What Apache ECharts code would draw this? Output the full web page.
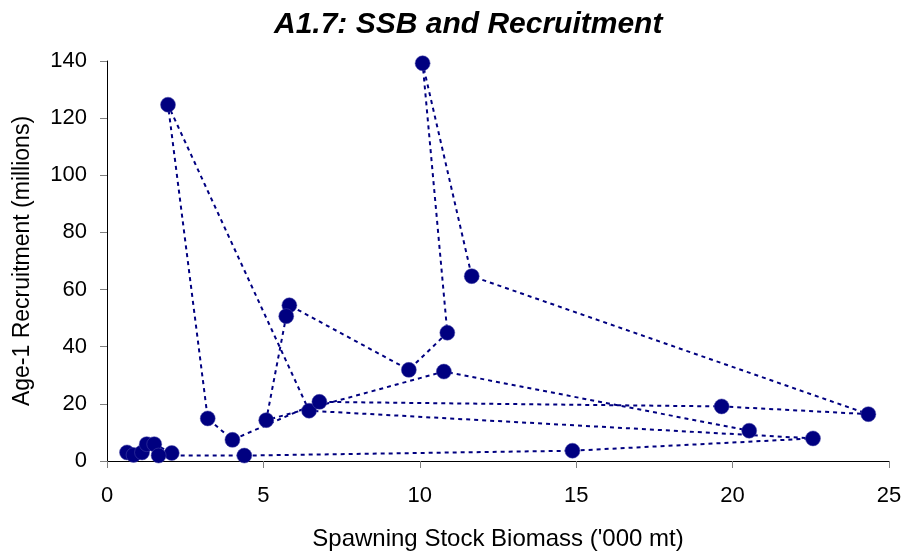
<!DOCTYPE html>
<html>
<head>
<meta charset="utf-8">
<script src="https://cdn.jsdelivr.net/npm/echarts@6/dist/echarts.min.js"></script>
<style>
html, body { margin: 0; padding: 0; background: #fff; }
#chart { width: 907px; height: 556px; }
</style>
</head>
<body>
<div id="chart"></div>
<script>
// SSB ('000 mt) and age-1 recruitment (millions), in connection order
var ssb = [0.64, 0.85, 1.12, 1.27, 1.51, 2.07, 1.65, 4.39, 14.88, 22.57, 6.46, 1.95, 3.22, 4.01, 6.79, 19.65, 24.34, 11.66, 10.09, 10.88, 9.65, 5.83, 5.73, 5.09, 10.77, 20.53];
var recruits = [3.0, 2.1, 3.0, 5.9, 5.9, 2.8, 1.9, 1.9, 3.6, 7.9, 17.6, 124.7, 14.9, 7.4, 20.7, 19.1, 16.4, 64.7, 139.2, 44.9, 31.9, 54.5, 50.7, 14.3, 31.3, 10.6];
var xTicks = [0, 5, 10, 15, 20, 25];
var yTicks = [0, 20, 40, 60, 80, 100, 120, 140];

var points = [];
for (var i = 0; i < ssb.length; i++) {
    points.push([ssb[i], recruits[i]]);
}

var chart = echarts.init(document.getElementById('chart'));
var axisFont = 'Liberation Sans, Arial, sans-serif';
chart.setOption({
    animation: false,
    title: {
        text: 'A1.7: SSB and Recruitment',
        left: 269,
        top: 5,
        textStyle: {
            fontFamily: 'Liberation Sans Narrow, Liberation Sans, Arial, sans-serif',
            fontStyle: 'italic',
            fontWeight: 'bold',
            fontSize: 30,
            color: '#000'
        }
    },
    grid: { left: 107, right: 18, top: 61, bottom: 94 },
    xAxis: {
        type: 'value',
        min: xTicks[0],
        max: xTicks[xTicks.length - 1],
        interval: 5,
        name: "Spawning Stock Biomass ('000 mt)",
        nameLocation: 'middle',
        nameGap: 66,
        nameTextStyle: { fontFamily: axisFont, fontSize: 24, color: '#000' },
        axisLine: { onZero: false, lineStyle: { color: '#000', width: 1 } },
        axisTick: { length: 7, lineStyle: { color: '#808080' } },
        axisLabel: { fontFamily: axisFont, fontSize: 22, color: '#000', margin: 24 },
        splitLine: { show: false }
    },
    yAxis: {
        type: 'value',
        min: yTicks[0],
        max: yTicks[yTicks.length - 1],
        interval: 20,
        name: 'Age-1 Recruitment (millions)',
        nameLocation: 'middle',
        nameGap: 73,
        nameTextStyle: { fontFamily: axisFont, fontSize: 23, color: '#000' },
        axisLine: { show: true, lineStyle: { color: '#000', width: 1 } },
        axisTick: { show: true, length: 7, lineStyle: { color: '#808080' } },
        axisLabel: { fontFamily: axisFont, fontSize: 22, color: '#000', margin: 20 },
        splitLine: { show: false }
    },
    series: [{
        type: 'line',
        data: points,
        symbol: 'circle',
        symbolSize: 15,
        showSymbol: true,
        itemStyle: { color: '#000080', borderColor: '#4a4aa8', borderWidth: 0.5 },
        lineStyle: { color: '#000080', width: 2, type: [4, 4] },
        z: 2
    }]
});
</script>
</body>
</html>
